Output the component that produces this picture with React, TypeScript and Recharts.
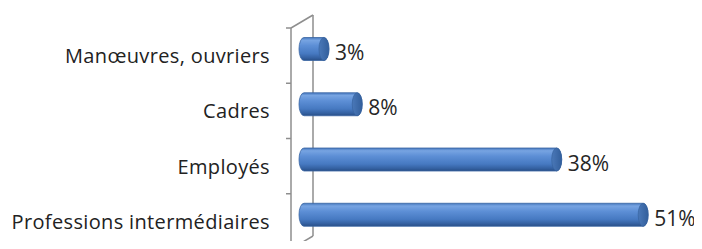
import React from 'react'
import { BarChart, Bar, XAxis, YAxis, LabelList } from 'recharts'

// Répartition par catégorie socio-professionnelle
const categories = ['Manœuvres, ouvriers', 'Cadres', 'Employés', 'Professions intermédiaires']
const shares = [3, 8, 38, 51]

const data = categories.map((name, i) => ({ name, value: shares[i] }))

const WIDTH = 702
const HEIGHT = 249
const MARGIN = { top: 28, right: 12, bottom: 0, left: 8 }
const AXIS_W = 283
const AXIS_X = MARGIN.left + AXIS_W
const PLOT_H = HEIGHT - MARGIN.top - MARGIN.bottom
const BAND = PLOT_H / categories.length

// fake 3d: wall depth, bar offset, cylinder cap radius
const DEPTH_X = 22
const DEPTH_Y = 13
const BAR_DX = 13
const BAR_DY = -6.5
const CAP = 5

const FONT = '"Open Sans", "Liberation Sans", sans-serif'
const WALL = '#8e8e8e'

const Cylinder = (props: any) => {
  const { x, y, width, height } = props
  const x0 = x + BAR_DX
  const x1 = x0 + width
  const top = y + BAR_DY
  const bot = top + height
  const ry = height / 2
  const d = `M${x0},${top} L${x1},${top} A${CAP},${ry} 0 0 1 ${x1},${bot} L${x0},${bot} A${CAP},${ry} 0 0 1 ${x0},${top} Z`
  return (
    <g>
      <path d={d} fill="url(#cyl)" stroke="#3a66a3" strokeWidth={0.8} />
      <ellipse cx={x1} cy={top + ry} rx={CAP} ry={ry} fill="url(#cap)" stroke="#34609a" strokeWidth={0.6} />
    </g>
  )
}

const ValueLabel = (props: any) => {
  const { x, y, width, height, value } = props
  return (
    <text
      x={x + BAR_DX + width + CAP + 6}
      y={y + BAR_DY + height / 2 + 3}
      dominantBaseline="central"
      fontFamily={FONT}
      fontSize={21}
      fill="#262626"
    >
      {value}%
    </text>
  )
}

const CategoryTick = (props: any) => {
  const { y, payload, index } = props
  return (
    <g>
      <line x1={AXIS_X - 5} x2={AXIS_X} y1={y - BAND / 2} y2={y - BAND / 2} stroke={WALL} strokeWidth={1.5} />
      {index === categories.length - 1 && (
        <line x1={AXIS_X - 5} x2={AXIS_X} y1={y + BAND / 2} y2={y + BAND / 2} stroke={WALL} strokeWidth={1.5} />
      )}
      <text
        x={270}
        y={y}
        textAnchor="end"
        dominantBaseline="central"
        fontFamily={FONT}
        fontSize={20}
        letterSpacing={0.35}
        fill="#222"
      >
        {payload.value}
      </text>
    </g>
  )
}

const Wall = () => {
  const topY = MARGIN.top
  const botY = HEIGHT - MARGIN.bottom
  return (
    <g stroke={WALL} strokeWidth={1.5} fill="none">
      <line x1={AXIS_X + DEPTH_X} y1={topY - DEPTH_Y} x2={AXIS_X + DEPTH_X} y2={botY - DEPTH_Y} />
      <line x1={AXIS_X} y1={topY} x2={AXIS_X + DEPTH_X} y2={topY - DEPTH_Y} />
      <line x1={AXIS_X} y1={botY} x2={AXIS_X + DEPTH_X} y2={botY - DEPTH_Y} />
    </g>
  )
}

export default function App() {
  return (
    <div style={{ width: WIDTH, height: HEIGHT, margin: -8, background: '#fff' }}>
      <BarChart width={WIDTH} height={HEIGHT} data={data} layout="vertical" margin={MARGIN} barSize={23}>
        <defs>
          <linearGradient id="cyl" x1="0" y1="0" x2="0" y2="1">
            <stop offset="0" stopColor="#4577bd" />
            <stop offset="0.12" stopColor="#77a4e2" />
            <stop offset="0.35" stopColor="#5d8fd6" />
            <stop offset="0.7" stopColor="#4679c1" />
            <stop offset="0.9" stopColor="#335f9f" />
            <stop offset="1" stopColor="#284e85" />
          </linearGradient>
          <linearGradient id="cap" x1="0" y1="0" x2="1" y2="0">
            <stop offset="0" stopColor="#4a78b8" />
            <stop offset="1" stopColor="#335f9c" />
          </linearGradient>
        </defs>
        <Wall />
        <XAxis type="number" domain={[0, 60]} hide />
        <YAxis
          type="category"
          dataKey="name"
          width={AXIS_W}
          axisLine={{ stroke: WALL, strokeWidth: 1.5 }}
          tickLine={false}
          tick={<CategoryTick />}
          interval={0}
        />
        <Bar dataKey="value" shape={<Cylinder />} isAnimationActive={false}>
          <LabelList dataKey="value" content={<ValueLabel />} />
        </Bar>
      </BarChart>
    </div>
  )
}
